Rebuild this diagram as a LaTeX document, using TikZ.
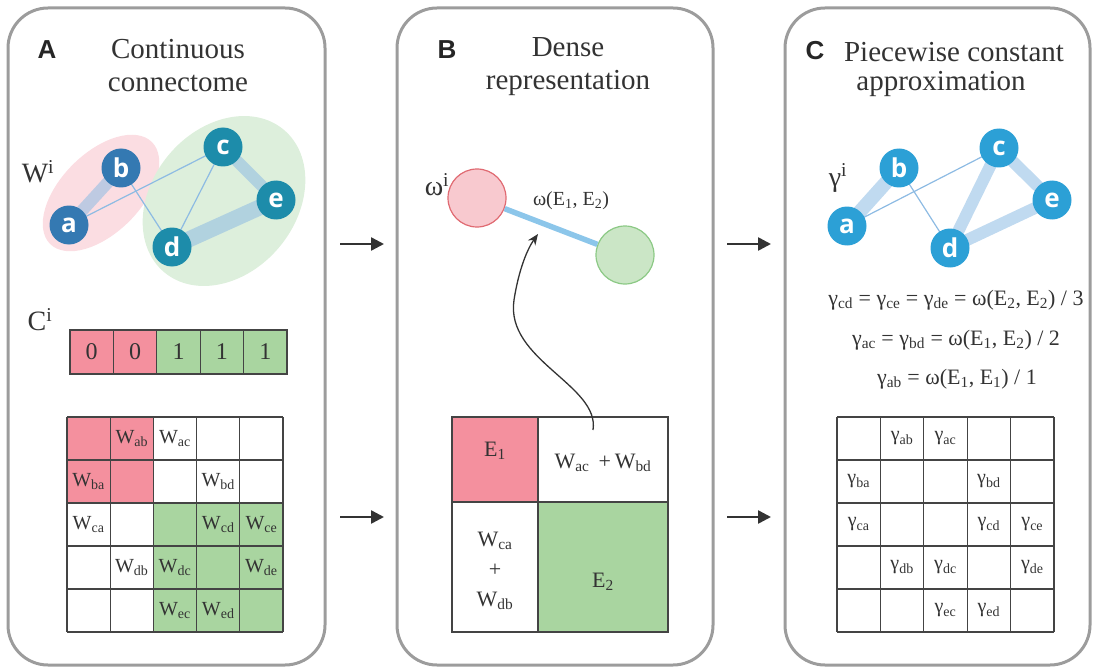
\documentclass[tikz,border=0pt]{standalone}
\usepackage{fontspec}
\setmainfont{Liberation Serif}
\newfontfamily\panelfont{Liberation Sans}
\newfontfamily\nodefont{Open Sans}
\usetikzlibrary{arrows.meta,shapes.geometric}
\definecolor{pinkc}{HTML}{F4909E}
\definecolor{greenc}{HTML}{A9D5A0}
\definecolor{pinkel}{HTML}{FBDDE2}
\definecolor{greenel}{HTML}{DDEFDC}
\definecolor{nodeAb}{HTML}{3479B2}
\definecolor{nodeAg}{HTML}{1D8CAA}
\definecolor{nodeC}{HTML}{2CA0D6}
\definecolor{edgec}{HTML}{8DBBE3}
\definecolor{edgeB}{HTML}{8CC6EA}
\definecolor{panelc}{HTML}{9C9C9C}
\definecolor{arrc}{HTML}{333333}
\definecolor{textc}{HTML}{333333}
\definecolor{gridc}{HTML}{444444}
\definecolor{circpink}{HTML}{F8C9CF}
\definecolor{circpinkd}{HTML}{E06A72}
\definecolor{circgreen}{HTML}{CBE6C6}
\definecolor{circgreend}{HTML}{8CC985}
\newcommand{\sbs}[1]{\textsubscript{#1}}
\newcommand{\sps}[1]{\textsuperscript{#1}}
\begin{document}
\begin{tikzpicture}[x=1pt,y=-1pt,
  panel/.style={draw=panelc,line width=3pt,rounded corners=40pt},
  gnode/.style={circle,minimum size=39pt,inner sep=0pt,text=white,font=\nodefont\bfseries\fontsize{26}{26}\selectfont},
  nA1/.style={gnode,fill=nodeAb},
  nA2/.style={gnode,fill=nodeAg},
  nC/.style={gnode,fill=nodeC},
  thick edge/.style={draw=edgec,opacity=0.55,line width=#1},
  thin edge/.style={draw=edgec,line width=1.2pt},
  title/.style={text=textc,font=\fontsize{29}{33}\selectfont,align=center},
  letter/.style={text=black!85,font=\panelfont\bfseries\fontsize{26}{26}\selectfont},
  biglabel/.style={text=textc,font=\fontsize{28}{28}\selectfont},
  celltext/.style={text=textc,font=\fontsize{20}{20}\selectfont,inner sep=0pt},
  vectext/.style={text=textc,font=\fontsize{24}{24}\selectfont},
  btext/.style={text=textc,font=\fontsize{22}{28}\selectfont,align=center},
  eqtext/.style={text=textc,font=\fontsize{22}{22}\selectfont},
  gridline/.style={draw=gridc,line width=1.3pt},
  flow/.style={draw=arrc,line width=2.5pt,-{Triangle[length=13pt,width=13pt]}},
]
\useasboundingbox (0,0) rectangle (1094,671);

% ---------- panels ----------
\draw[panel] (8,8) rectangle (325,665);
\draw[panel] (397,8) rectangle (713,665);
\draw[panel] (785,8) rectangle (1090,665);

% ---------- panel A ----------
\node[letter] (LA) at (47,50) {A};
\node[title] (TA) at (178,66) {Continuous\\connectome};

\fill[pinkel,rotate around={45:(101,193)}] (101,193) ellipse [x radius=72, y radius=40];
\fill[greenel,rotate around={50:(224,201)}] (224,201) ellipse [x radius=93, y radius=72];

\node[biglabel] (WA) at (38,172) {W\sps{i}};

\coordinate (pa) at (69,225);
\coordinate (pb) at (121,168);
\coordinate (pc) at (223,147);
\coordinate (pd) at (172,247);
\coordinate (pe) at (276,200);
\draw[thick edge=12pt] (pa) -- (pb);
\draw[thick edge=12pt] (pc) -- (pe);
\draw[thick edge=16pt] (pd) -- (pe);
\draw[thin edge] (pa) -- (pc);
\draw[thin edge] (pb) -- (pd);
\draw[thin edge] (pc) -- (pd);
\node[nA1] (Aa) at (pa) {a};
\node[nA1] (Ab) at (pb) {b};
\node[nA2] (Ac) at (pc) {c};
\node[nA2] (Ad) at (pd) {d};
\node[nA2] (Ae) at (pe) {e};

\node[biglabel] (CA) at (40,320) {C\sps{i}};
% vector
\fill[pinkc] (70,330) rectangle (157,374);
\fill[greenc] (157,330) rectangle (287,374);
\draw[gridline] (70,330) rectangle (287,374);
\foreach \k in {1,2,3,4} \draw[gridline] ({70+\k*43.4},330) -- ({70+\k*43.4},374);
\foreach \v [count=\k from 0] in {0,0,1,1,1}
  \node[vectext] (vec\k) at ({70+43.4*(\k+0.5)},352) {\v};

% matrix A
\fill[pinkc] (67,417) rectangle (153.4,503);
\fill[greenc] (153.4,503) rectangle (283,632);
\foreach \k in {0,...,5} {
  \draw[gridline] ({67+\k*43.2},417) -- ({67+\k*43.2},632);
  \draw[gridline] (67,{417+\k*43}) -- (283,{417+\k*43});
}
\foreach \r/\c/\t in {0/1/ab,0/2/ac,1/0/ba,1/3/bd,2/0/ca,2/3/cd,2/4/ce,3/1/db,3/2/dc,3/4/de,4/2/ec,4/3/ed}
  \node[celltext] (mA\t) at ({67+43.2*(\c+0.5)},{417+43*(\r+0.5)}) {W\sbs{\t}};

% ---------- arrows ----------
\coordinate (ab1s) at (340,244);
\coordinate (ab1e) at (384,244);
\coordinate (ab2s) at (340,517);
\coordinate (ab2e) at (384,517);
\coordinate (bc1s) at (727,244);
\coordinate (bc1e) at (771,244);
\coordinate (bc2s) at (727,517);
\coordinate (bc2e) at (771,517);
\draw[flow] (ab1s) -- (ab1e);
\draw[flow] (ab2s) -- (ab2e);
\draw[flow] (bc1s) -- (bc1e);
\draw[flow] (bc2s) -- (bc2e);

% ---------- panel B ----------
\node[letter] (LB) at (447,50) {B};
\node[title] (TB) at (568,67) {Dense\\representation};
\node[biglabel] (WB) at (437,185) {ω\sps{i}};
\node[circle,minimum size=58pt,inner sep=0pt,fill=circpink,draw=circpinkd,line width=1.2pt] (E1n) at (477,198) {};
\node[circle,minimum size=58pt,inner sep=0pt,fill=circgreen,draw=circgreend,line width=1.2pt] (E2n) at (625,255) {};
\draw[draw=edgeB,line width=5.5pt] (E1n) -- (E2n);
\node[text=textc,font=\fontsize{20}{20}\selectfont] (wlab) at (571,201) {ω(E\sbs{1}, E\sbs{2})};

% matrix B
\fill[pinkc] (452,417) rectangle (538,502);
\fill[greenc] (538,502) rectangle (668,632);
\draw[gridline] (452,417) rectangle (668,632);
\draw[gridline] (538,417) -- (538,632);
\draw[gridline] (452,502) -- (668,502);
\node[btext] (bE1) at (495,451) {E\sbs{1}};
\node[btext] (bWac) at (603,463) {W\sbs{ac} \,+\,W\sbs{bd}};
\node[btext] (bWca) at (495,571) {W\sbs{ca}\\[2pt]+\\[2pt]W\sbs{db}};
\node[btext] (bE2) at (603,582) {E\sbs{2}};

\coordinate (cst) at (593,430);
\coordinate (cmid) at (514,300);
\coordinate (cend) at (538,234);
\draw[draw=arrc,line width=1.3pt,-{Stealth[length=11pt,width=9pt]}]
  (cst) .. controls (600,385) and (505,360) .. (cmid)
        .. controls (519,268) and (528,248) .. (cend);

% ---------- panel C ----------
\node[letter] (LC) at (815,51) {C};
\node[title] (TC1) at (954,52) {Piecewise constant};
\node[title] (TC2) at (941,84) {approximation};
\node[biglabel] (GC) at (838,178) {γ\sps{i}};

\coordinate (qa) at (847,226);
\coordinate (qb) at (899,168);
\coordinate (qc) at (999,148);
\coordinate (qd) at (950,248);
\coordinate (qe) at (1052,200);
\draw[thick edge=14pt] (qa) -- (qb);
\draw[thick edge=12pt] (qc) -- (qd);
\draw[thick edge=12pt] (qc) -- (qe);
\draw[thick edge=12pt] (qd) -- (qe);
\draw[thin edge] (qa) -- (qc);
\draw[thin edge] (qb) -- (qd);
\node[nC] (Ca) at (qa) {a};
\node[nC] (Cb) at (qb) {b};
\node[nC] (Cc) at (qc) {c};
\node[nC] (Cd) at (qd) {d};
\node[nC] (Ce) at (qe) {e};

\node[eqtext] (eq1) at (956,300) {γ\sbs{cd} = γ\sbs{ce} = γ\sbs{de} = ω(E\sbs{2}, E\sbs{2}) / 3};
\node[eqtext] (eq2) at (956,340) {γ\sbs{ac} = γ\sbs{bd} = ω(E\sbs{1}, E\sbs{2}) / 2};
\node[eqtext] (eq3) at (957,379) {γ\sbs{ab} = ω(E\sbs{1}, E\sbs{1}) / 1};

% matrix C
\foreach \k in {0,...,5} {
  \draw[gridline] ({837+\k*43.4},417) -- ({837+\k*43.4},632);
  \draw[gridline] (837,{417+\k*43}) -- (1054,{417+\k*43});
}
\foreach \r/\c/\t in {0/1/ab,0/2/ac,1/0/ba,1/3/bd,2/0/ca,2/3/cd,2/4/ce,3/1/db,3/2/dc,3/4/de,4/2/ec,4/3/ed}
  \node[celltext] (mC\t) at ({837+43.4*(\c+0.5)},{417+43*(\r+0.5)}) {γ\sbs{\t}};
\end{tikzpicture}
\end{document}
